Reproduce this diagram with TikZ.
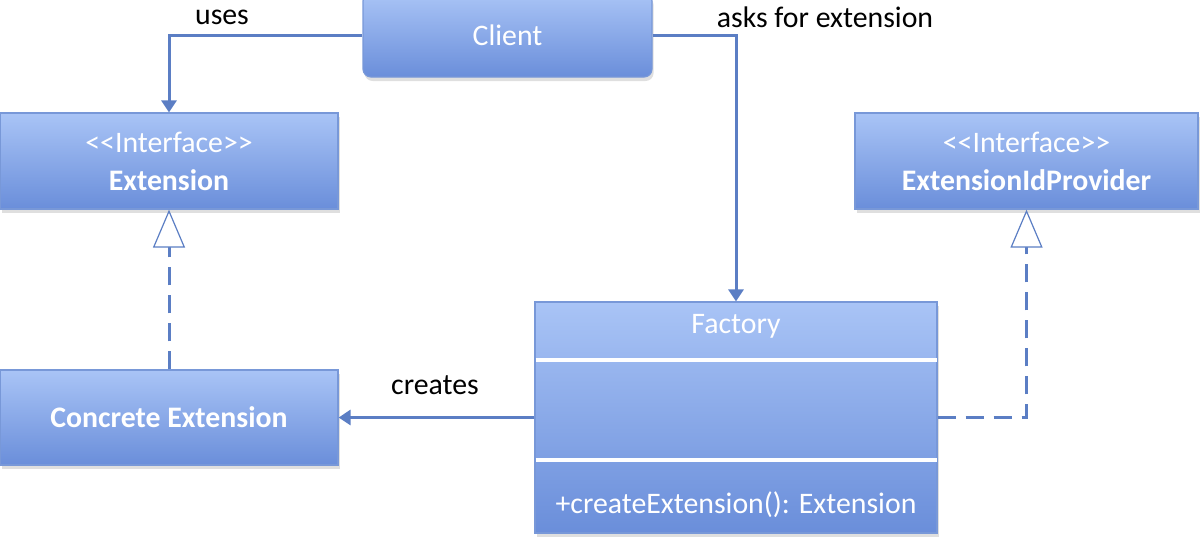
\documentclass[tikz,border=0pt]{standalone}
\usepackage{fontspec}
\setmainfont{Carlito}[Ligatures=TeXOff]
\usetikzlibrary{arrows.meta,shadows}
\definecolor{boxtop}{HTML}{A9C4F6}
\definecolor{boxbot}{HTML}{6A8EDA}
\definecolor{boxline}{HTML}{7898D8}
\definecolor{conncol}{HTML}{5B7EC4}
\tikzset{
  umlbox/.style={rectangle, draw=boxline, line width=0.6pt, top color=boxtop, bottom color=boxbot,
    text=white, align=center, inner sep=0pt, font=\fontsize{14.9}{19}\selectfont,
    drop shadow={shadow xshift=0.8pt, shadow yshift=-2pt, opacity=0.25}},
  conn/.style={draw=conncol, line width=1.5pt},
  assoc/.style={conn, -{Triangle[length=6pt,width=7.5pt]}},
  realize/.style={conn, dash pattern=on 9pt off 5pt, -{Triangle[open, length=19pt, width=16pt, fill=white, line width=0.6pt]}},
  lbl/.style={text=black, font=\fontsize{14.9}{19}\selectfont, inner sep=0pt},
  divider/.style={draw=white, line width=1.6pt}
}
\begin{document}
\begin{tikzpicture}[x=0.5pt,y=-0.5pt]
\useasboundingbox (0,0) rectangle (1202,538);
% nodes
\node[umlbox, rounded corners=4pt, minimum width=289*0.5pt, minimum height=84*0.5pt] (client) at (507.5,35) {Client};
\node[umlbox, minimum width=338*0.5pt, minimum height=96*0.5pt] (ext) at (169,161)
  {<<Interface>>\\\textbf{Extension}};
\node[umlbox, minimum width=343*0.5pt, minimum height=96*0.5pt] (eip) at (1026.5,161)
  {<<Interface>>\\\textbf{ExtensionIdProvider}};
\node[umlbox, minimum width=338*0.5pt, minimum height=95*0.5pt] (conc) at (169,417.5)
  {\textbf{Concrete Extension}};
\node[umlbox, minimum width=402*0.5pt, minimum height=231*0.5pt] (factory) at (736,417.5) {};
\node[lbl, text=white] (ftitle) at (736,326) {Factory};
\node[lbl, text=white] (fop) at (736,505) {+createExtension(): Extension};
\draw[divider] (535.5,360) -- (936.5,360);
\draw[divider] (535.5,460) -- (936.5,460);
% labels
\node[lbl] (luses) at (222,17) {uses};
\node[lbl] (lasks) at (825,17) {asks for extension};
\node[lbl] (lcreates) at (435,385) {creates};
% connectors
\draw[assoc] (client.west) -| (ext.north);
\draw[assoc] (client.east) -| (factory.north);
\draw[assoc] (factory.west) -- (conc.east);
\draw[realize] (conc.north) -- (ext.south);
\draw[realize] (factory.east) -| (eip.south);
\end{tikzpicture}
\end{document}
